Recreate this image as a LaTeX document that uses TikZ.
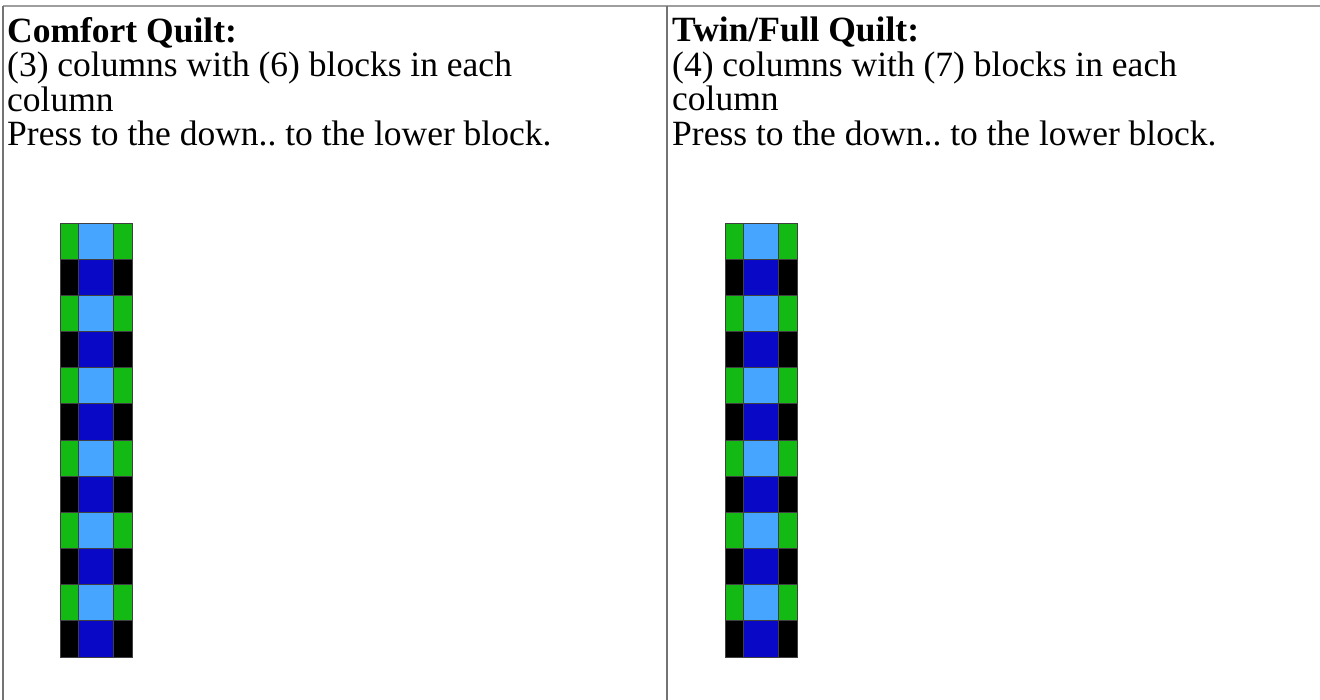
\documentclass[tikz,border=0pt]{standalone}
\usepackage{fontspec}
\setmainfont{Liberation Serif}
\usetikzlibrary{positioning}
\definecolor{rulegray}{gray}{0.62}
\definecolor{sidegray}{gray}{0.45}
\definecolor{quiltgreen}{RGB}{20,186,20}
\definecolor{quiltsky}{RGB}{70,166,255}
\definecolor{quiltnavy}{RGB}{8,8,198}
% one strip of twelve rows, #1 = left edge
\newcommand{\quiltstrip}[1]{%
  \foreach \r in {0,2,...,10}{
    \pgfmathsetmacro{\ya}{223+\r*36.17}
    \pgfmathsetmacro{\yb}{\ya+36.17}
    \filldraw[patch, fill=quiltgreen] (#1,\ya) rectangle ++(18.5,36.17);
    \filldraw[patch, fill=quiltsky] (#1+18.5,\ya) rectangle ++(35,36.17);
    \filldraw[patch, fill=quiltgreen] (#1+53.5,\ya) rectangle ++(18.5,36.17);
    \filldraw[patch, fill=black] (#1,\yb) rectangle ++(18.5,36.17);
    \filldraw[patch, fill=quiltnavy] (#1+18.5,\yb) rectangle ++(35,36.17);
    \filldraw[patch, fill=black] (#1+53.5,\yb) rectangle ++(18.5,36.17);
  }%
}

\begin{document}
\frenchspacing
\begin{tikzpicture}[x=1pt, y=-1pt,
  rule/.style={draw=rulegray, line width=1.5pt},
  siderule/.style={draw=sidegray, line width=2pt},
  celltext/.style={font=\fontsize{35.5}{34.5}\selectfont, align=left,
    anchor=north west, inner sep=0pt},
  patch/.style={draw=black!75, line width=0.8pt}
]
\useasboundingbox (0,0) rectangle (1320,700);
\fill[white] (0,0) rectangle (1320,700);

% table rules
\draw[rule] (3,6) -- (1320,6);
\draw[siderule] (3,6) -- (3,700);
\draw[siderule] (667,6) -- (667,700);

% cell texts
\node[celltext] (comfort) at (7,17)
  {\textbf{Comfort Quilt:}\\(3) columns with (6) blocks in each\\column\\Press to the down.. to the lower block.};
\node[celltext] (twinfull) at (672,17)
  {\textbf{Twin/Full Quilt:}\\(4) columns with (7) blocks in each\\column\\Press to the down.. to the lower block.};

% quilt strips
\quiltstrip{60}
\quiltstrip{725}
\end{tikzpicture}
\end{document}
